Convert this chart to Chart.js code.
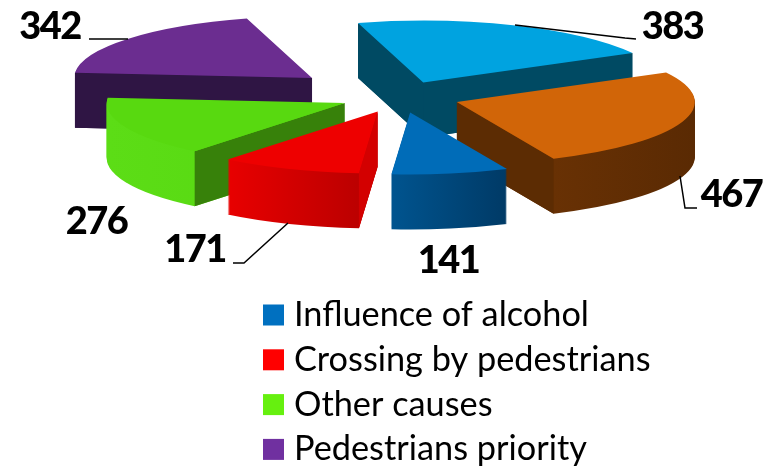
<!DOCTYPE html>
<html>
<head>
<meta charset="utf-8">
<title>Pie</title>
<script src="https://cdn.jsdelivr.net/npm/chart.js@4/dist/chart.umd.js"></script>
<style>
  html, body { margin: 0; padding: 0; background: #fff; overflow: hidden; }
  canvas { display: block; }
</style>
</head>
<body>
<canvas id="pieChart" width="775" height="466"></canvas>
<script>
// the last two categories fall off the bottom of the legend, names not readable
var categories = ["Influence of alcohol", "Crossing by pedestrians", "Other causes", "Pedestrians priority", "", ""];
var values = [141, 171, 276, 342, 383, 467];

// styles, same order as the values
var topColors = ["#006cb8", "#ee0000", "#58d910", "#6b2d90", "#00a3e0", "#d16508"];
var legendColors = ["#0070c0", "#ff0000", "#66f00f", "#7030a0", "#00b0f0", "#e36c09"];
var wallColors = [
  ["#00548f", "#003a66"],
  ["#e80000", "#b50000"],
  ["#5cdd16", "#56d810"],
  ["#2f1544", "#2f1544"],
  ["#004a63", "#004a63"],
  ["#723605", "#5a2a03"]
];
var cutColors = ["#003a66", "#d30000", "#37810a", "#2f1544", "#004a63", "#5c2c03"];
var explode = [60, 60, 60, 114, 60, 60];
var drawOrder = [4, 3, 2, 5, 1, 0];

var centerX = 400, centerY = 97, squash = 0.2605, depth = 55;

// label position and leader line for each value
var valueLabels = [
  { x: 448.5, y: 261, line: [] },
  { x: 195, y: 250, line: [[288, 223], [244, 263], [233, 263]] },
  { x: 96.5, y: 222, line: [] },
  { x: 50, y: 27, line: [[128, 39], [89, 39]] },
  { x: 672.5, y: 27, line: [[515, 25], [625, 38], [636, 39]] },
  { x: 731.5, y: 195, line: [[680, 176], [685, 208], [697, 208]] }
];

function drawFace(ctx, arc, shiftX, shiftY, fill) {
  var saved = arc.options;
  arc.options = Object.create(saved, { backgroundColor: { value: fill } });
  ctx.save();
  ctx.translate(centerX + shiftX, centerY + shiftY);
  ctx.scale(1, squash);
  ctx.translate(-arc.x, -arc.y);
  arc.draw(ctx);
  ctx.restore();
  arc.options = saved;
}

function drawCutWall(ctx, ax, ay, angle, r, color) {
  var px = ax + r * Math.cos(angle), py = ay + r * squash * Math.sin(angle);
  ctx.fillStyle = color;
  ctx.beginPath();
  ctx.moveTo(ax, ay);
  ctx.lineTo(px, py);
  ctx.lineTo(px, py + depth);
  ctx.lineTo(ax, ay + depth);
  ctx.closePath();
  ctx.fill();
}

var solidPie = {
  id: "solidPie",
  beforeDatasetsDraw: function (chart) {
    var ctx = chart.ctx;
    var arcs = chart.getDatasetMeta(0).data;
    drawOrder.forEach(function (i) {
      var arc = arcs[i];
      var mid = (arc.startAngle + arc.endAngle) / 2;
      var r = arc.outerRadius;
      var sx = explode[i] * Math.cos(mid), sy = explode[i] * Math.sin(mid) * squash;
      var ax = centerX + sx, ay = centerY + sy;

      // horizontal extent of the slice, for the wall gradient
      var minX = ax, maxX = ax;
      for (var t = 0; t <= 40; t++) {
        var a = arc.startAngle + (arc.endAngle - arc.startAngle) * t / 40;
        minX = Math.min(minX, ax + r * Math.cos(a));
        maxX = Math.max(maxX, ax + r * Math.cos(a));
      }
      // gradient is built in the coordinates arc.draw uses
      var off = centerX + sx - arc.x;
      var grad = ctx.createLinearGradient(minX - off, 0, maxX - off, 0);
      grad.addColorStop(0, wallColors[i][0]);
      grad.addColorStop(1, wallColors[i][1]);

      for (var d = depth; d >= 1; d--) {
        drawFace(ctx, arc, sx, sy + d, grad);
      }
      // only the cut faces turned towards the viewer
      if (-Math.cos(arc.startAngle) > 0) drawCutWall(ctx, ax, ay, arc.startAngle, r, cutColors[i]);
      if (Math.cos(arc.endAngle) > 0) drawCutWall(ctx, ax, ay, arc.endAngle, r, cutColors[i]);
      drawFace(ctx, arc, sx, sy, topColors[i]);
    });
    return false;
  },
  afterDraw: function (chart) {
    var ctx = chart.ctx;
    ctx.save();
    ctx.strokeStyle = "#000";
    ctx.lineWidth = 1.5;
    ctx.fillStyle = "#000";
    ctx.font = "900 38px Lato";
    ctx.letterSpacing = "-1.5px";
    ctx.textAlign = "center";
    ctx.textBaseline = "middle";
    values.forEach(function (v, i) {
      var lab = valueLabels[i];
      ctx.fillText(String(v), lab.x, lab.y);
      if (lab.line.length) {
        ctx.beginPath();
        lab.line.forEach(function (p, k) {
          if (k === 0) ctx.moveTo(p[0], p[1]); else ctx.lineTo(p[0], p[1]);
        });
        ctx.stroke();
      }
    });

    ctx.font = "34.3px Lato";
    ctx.letterSpacing = "0px";
    ctx.textAlign = "left";
    var y = 315;
    categories.forEach(function (name, i) {
      if (!name) return;
      ctx.fillStyle = legendColors[i];
      ctx.fillRect(263, y - 10.5, 21, 21);
      ctx.fillStyle = "#000";
      ctx.fillText(name, 294, y);
      y += 44.8;
    });
    ctx.restore();
  }
};

var pieChart = new Chart(document.getElementById("pieChart"), {
  type: "pie",
  data: {
    labels: categories,
    datasets: [{
      data: values,
      backgroundColor: topColors,
      borderWidth: 0
    }]
  },
  options: {
    responsive: false,
    animation: false,
    rotation: 156,
    radius: 238,
    plugins: {
      legend: { display: false },
      tooltip: { enabled: false }
    }
  },
  plugins: [solidPie]
});
</script>
</body>
</html>
